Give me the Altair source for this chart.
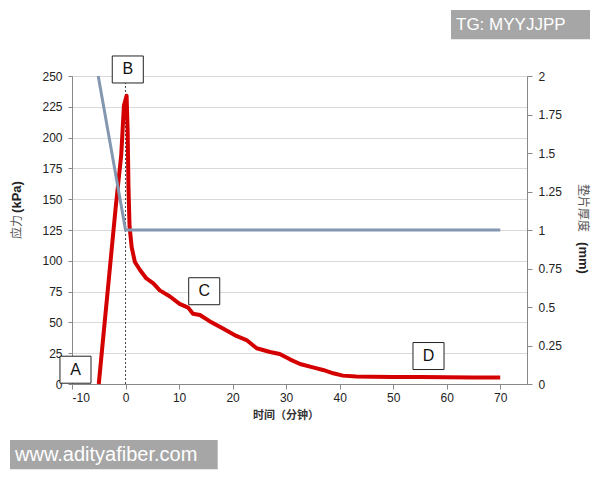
import altair as alt
import pandas as pd

# ---- data ----
stress_time = [-5, -1.8, -0.8, -0.3, 0.2, 0.4, 0.55, 0.75, 1.15, 1.75, 2.7, 3.9, 5.2, 6.4, 8.3,
               10.1, 11.7, 12.6, 13.9, 15.7, 18.2, 20.7, 22.6, 24.5, 27, 28.8, 30.7, 32.6,
               35, 36.9, 38.8, 40.6, 43.1, 46, 50, 55, 60, 65, 70]
stress_kpa = [0, 145, 186, 226, 234, 205, 160, 128, 111, 99, 92.5, 85.7, 81.7, 76, 71,
              65, 62, 57, 56, 51, 45, 39, 35.7, 29, 26, 24.4, 20, 16.2,
              13.5, 11.4, 8.7, 6.8, 6.0, 5.8, 5.6, 5.6, 5.5, 5.3, 5.2]

thick_time = [-5.1, 0, 70]
thick_mm = [2.0, 1.0, 1.0]

x_ticks = [-10, 0, 10, 20, 30, 40, 50, 60, 70]
left_ticks = [0, 25, 50, 75, 100, 125, 150, 175, 200, 225, 250]
right_ticks = [0, 0.25, 0.5, 0.75, 1, 1.25, 1.5, 1.75, 2]

note_names = ["A", "B", "C", "D"]
note_time = [-9.35, 0.42, 14.7, 56.6]
note_kpa = [11.6, 255.3, 75.3, 22.7]

marker_time = [0]
marker_low = [0]
marker_high = [250]

# ---- frames ----
df_s = pd.DataFrame({"t": stress_time, "v": stress_kpa})
df_t = pd.DataFrame({"t": thick_time, "v": thick_mm})
df_n = pd.DataFrame({"t": note_time, "v": note_kpa, "name": note_names})
df_m = pd.DataFrame({"t": marker_time, "v": marker_low, "v2": marker_high})

FONT = "Liberation Sans"
CJK = "Noto Sans CJK SC"

xscale = alt.Scale(domain=[-10, 75], nice=False, zero=False)
xaxis = alt.Axis(values=x_ticks, title=None, grid=False, domainColor="#888", tickColor="#888",
                 tickSize=5, labelPadding=3, labelFont=FONT, labelFontSize=12, labelColor="#222",
                 labelExpr="'' + datum.value")
X = alt.X("t:Q", scale=xscale, axis=xaxis)

yl_scale = alt.Scale(domain=[0, 250], nice=False, zero=False)
yl_axis = alt.Axis(values=left_ticks, grid=True, gridColor="#d9d9d9", title=None, orient="left",
                   domainColor="#888", tickColor="#888", tickSize=4, labelPadding=6,
                   labelFont=FONT, labelFontSize=12, labelColor="#222")
yr_scale = alt.Scale(domain=[0, 2], nice=False, zero=False)
yr_axis = alt.Axis(values=right_ticks, grid=False, title=None, orient="right", format=".2~f",
                   domainColor="#888", tickColor="#888", tickSize=5, labelPadding=6,
                   labelFont=FONT, labelFontSize=12, labelColor="#222")

red = alt.Chart(df_s).mark_line(color="#d40000", strokeWidth=4, strokeJoin="round").encode(
    x=X, y=alt.Y("v:Q", scale=yl_scale, axis=yl_axis))

marker = alt.Chart(df_m).mark_rule(color="#444", strokeDash=[2, 2], strokeWidth=1).encode(
    x=X, y=alt.Y("v:Q", scale=yl_scale, axis=yl_axis), y2="v2:Q")

boxes = alt.Chart(df_n).mark_point(shape="M-1.15,-1H1.15V1H-1.15Z", size=729, filled=True,
                                   fill="white", fillOpacity=1, stroke="#222", strokeWidth=1,
                                   opacity=1).encode(
    x=X, y=alt.Y("v:Q", scale=yl_scale, axis=yl_axis))
box_text = alt.Chart(df_n).mark_text(font=FONT, fontSize=16, color="#111", align="center",
                                     baseline="middle").encode(
    x=X, y=alt.Y("v:Q", scale=yl_scale, axis=yl_axis), text="name:N")

gray = alt.Chart(df_t).mark_line(color="#8497b0", strokeWidth=3).encode(
    x=X, y=alt.Y("v:Q", scale=yr_scale, axis=yr_axis))


def label(txt, x, y, **kw):
    return alt.Chart(pd.DataFrame({"s": [txt]})).mark_text(**kw).encode(
        x=alt.value(x), y=alt.value(y), text="s:N")


def rect(x, x2, y, y2, color):
    return alt.Chart(pd.DataFrame({"k": [0]})).mark_rect(color=color).encode(
        x=alt.value(x), x2=alt.value(x2), y=alt.value(y), y2=alt.value(y2))


titles = [
    label("(kPa)", -55, 121, font=FONT, fontSize=13, fontWeight="bold", color="#222", angle=270,
          align="center", baseline="middle"),
    label("应力", -55, 151, font=CJK, fontSize=12, color="#555", angle=270,
          align="center", baseline="middle"),
    label("垫片厚度", 511, 132, font=CJK, fontSize=12, color="#555", angle=90,
          align="center", baseline="middle"),
    label("(mm)", 511, 182, font=FONT, fontSize=13, fontWeight="bold", color="#222", angle=90,
          align="center", baseline="middle"),
    label("时间（分钟）", 214, 340, font=CJK, fontSize=11, fontWeight="bold", color="#333",
          align="center", baseline="middle"),
    rect(379, 518, -66, -36.7, "#a6a6a6"),
    label("TG: MYYJJPP", 384, -51.5, font=FONT, fontSize=17, color="white",
          align="left", baseline="middle"),
    rect(-62, 145.7, 364, 393.3, "#a6a6a6"),
    label("www.adityafiber.com", -57, 379, font=FONT, fontSize=20, color="white",
          align="left", baseline="middle"),
]

inner = alt.layer(marker, red, boxes, box_text, *titles)
chart = alt.layer(inner, gray).resolve_scale(y="independent").properties(
    width=455, height=308,
    autosize=alt.AutoSizeParams(type="none"),
    padding={"left": 72, "top": 76, "right": 73, "bottom": 96},
    background="white",
).configure_view(stroke="#888", strokeWidth=1)

chart.save("out.html", embed_options={"renderer": "svg", "actions": False})
